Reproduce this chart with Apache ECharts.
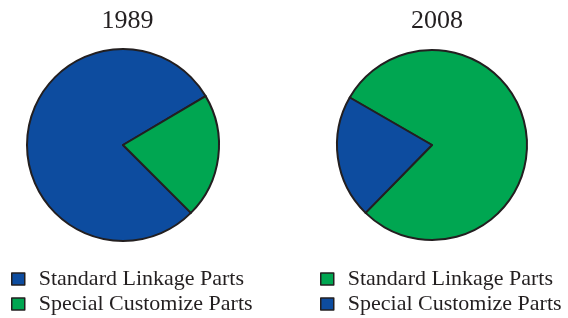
<!DOCTYPE html>
<html>
<head>
<meta charset="utf-8">
<script src="https://cdn.jsdelivr.net/npm/echarts@6/dist/echarts.min.js"></script>
<style>
html,body{margin:0;padding:0;background:#fff;}
#main{width:568px;height:318px;}
</style>
</head>
<body>
<div id="main"></div>
<script>
const years = ['1989', '2008'];
const categories = ['Standard Linkage Parts', 'Special Customize Parts'];
const share1989 = [79, 21];
const share2008 = [79, 21];

const BLUE = '#0D4C9F';
const GREEN = '#00A651';
const EDGE = '#231F20';
const FONT = 'Liberation Serif';

const colors1989 = [BLUE, GREEN];
const colors2008 = [GREEN, BLUE];

function pieData(values, cols) {
  return categories.map((c, i) => ({ name: c, value: values[i], itemStyle: { color: cols[i] } }));
}

const rowTops = [263, 288];
const legendLefts = [6, 315];
const legendColors = [colors1989, colors2008];
const legends = [];
legendLefts.forEach((lx, p) => {
  categories.forEach((c, i) => {
    legends.push({
      orient: 'horizontal',
      left: lx,
      top: rowTops[i],
      itemWidth: 13,
      itemHeight: 12,
      icon: 'rect',
      selectedMode: false,
      textStyle: { fontFamily: FONT, fontSize: 22, color: EDGE, padding: [0, 0, 0, 9] },
      data: [{ name: c, itemStyle: { color: legendColors[p][i], borderColor: EDGE, borderWidth: 1.5 } }]
    });
  });
});

const chart = echarts.init(document.getElementById('main'), null, { renderer: 'canvas' });
chart.setOption({
  animation: false,
  title: [
    { text: years[0], left: 122.5, textAlign: 'center', top: 3, textStyle: { fontFamily: FONT, fontSize: 26, fontWeight: 'normal', color: EDGE } },
    { text: years[1], left: 432, textAlign: 'center', top: 3, textStyle: { fontFamily: FONT, fontSize: 26, fontWeight: 'normal', color: EDGE } }
  ],
  legend: legends,
  series: [
    {
      type: 'pie', center: [123, 145], radius: 96, startAngle: 315, clockwise: true,
      label: { show: false }, labelLine: { show: false }, silent: true,
      itemStyle: { borderColor: EDGE, borderWidth: 2 },
      data: pieData(share1989, colors1989)
    },
    {
      type: 'pie', center: [432, 145], radius: 95, startAngle: 150, clockwise: true,
      label: { show: false }, labelLine: { show: false }, silent: true,
      itemStyle: { borderColor: EDGE, borderWidth: 2 },
      data: pieData(share2008, colors2008)
    }
  ]
});
</script>
</body>
</html>
